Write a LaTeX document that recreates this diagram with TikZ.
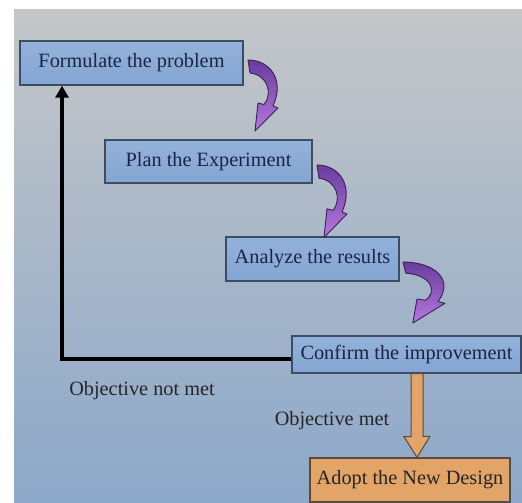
\documentclass[tikz,border=0pt]{standalone}
\usepackage{fontspec}
\setmainfont{Liberation Serif}
\usetikzlibrary{arrows.meta,calc}
\definecolor{bgtop}{HTML}{C4C6C8}
\definecolor{bgbot}{HTML}{8CA8CA}
\definecolor{boxfill}{HTML}{93B2DB}
\definecolor{boxfilltwo}{HTML}{84A5D2}
\definecolor{boxline}{HTML}{3E4C62}
\definecolor{txt}{HTML}{1C2444}
\definecolor{orangefill}{HTML}{E3A468}
\definecolor{orangeline}{HTML}{5A4A40}
\definecolor{purpdark}{HTML}{6A3C9E}
\definecolor{purplight}{HTML}{B677DE}
\definecolor{purpline}{HTML}{3A2252}
\tikzset{
  bluebox/.style={draw=boxline, line width=1.4pt, top color=boxfill, bottom color=boxfilltwo,
    text=txt, inner sep=0pt, font=\fontsize{20.3}{24}\selectfont, anchor=center},
  orangebox/.style={draw=orangeline, line width=1.4pt, fill=orangefill,
    text=black!85, inner sep=0pt, font=\fontsize{20.3}{24}\selectfont, anchor=center},
  lbl/.style={text=black!85, inner sep=0pt, font=\fontsize{20.3}{24}\selectfont},
  curvarrow/.style={draw=purpline, line width=0.9pt, top color=purpdark, bottom color=purplight, line join=round},
  blockarrow/.style={draw=orangeline, line width=1pt, fill=orangefill, line join=miter},
  backarrow/.style={line width=4pt, black, line join=miter, -{Triangle[width=13pt,length=12pt]}}
}
\newcommand{\curvedarrow}[3]{% shift, xscale, yscale
  \path[curvarrow, shift={#1}, xscale=#2, yscale=#3]
    (0,0) .. controls (22,0) and (37,20) .. (25,46)
    -- (30,48) -- (7,71) -- (10,43) -- (16,44.5)
    .. controls (25,34) and (20,15) .. (2,13) -- cycle;
}
\begin{document}
\begin{tikzpicture}[x=1pt,y=-1pt]
\useasboundingbox (0,0) rectangle (522,503);
\shade[top color=bgtop, bottom color=bgbot] (14,10) rectangle (522,503);

\node[bluebox, minimum width=223pt, minimum height=44pt] (b1) at (131.5,63) {Formulate the problem};
\node[bluebox, minimum width=207pt, minimum height=43pt] (b2) at (208.5,161.5) {Plan the Experiment};
\node[bluebox, minimum width=173pt, minimum height=44pt] (b3) at (312.5,259) {Analyze the results};
\node[bluebox, minimum width=229pt, minimum height=37pt] (b4) at (406.5,354.5) {Confirm the improvement};
\node[orangebox, minimum width=200pt, minimum height=44pt] (b5) at (410,480) {Adopt the New Design};

\node[lbl] (l1) at (142,391) {Objective not met};
\node[lbl] (l2) at (332,421) {Objective met};

% curved purple arrows
\curvedarrow{(248,60)}{1}{1}
\curvedarrow{(317,165)}{1}{1.02}
\curvedarrow{(403,262)}{1.4}{0.86}

% feedback arrow
\coordinate (corner) at (62,359);
\draw[backarrow] (b4.west |- corner) -- (corner) -- (corner |- b1.south);

% orange block arrow
\coordinate (oa) at (417,0);
\path[blockarrow] ($(oa |- b4.south)+(-6,0)$) -- ++(0,63) -- ++(-7,0) -- ($(oa |- b5.north)$) -- ++(13,-21) -- ++(-7,0) -- ($(oa |- b4.south)+(6,0)$) -- cycle;
\end{tikzpicture}
\end{document}
